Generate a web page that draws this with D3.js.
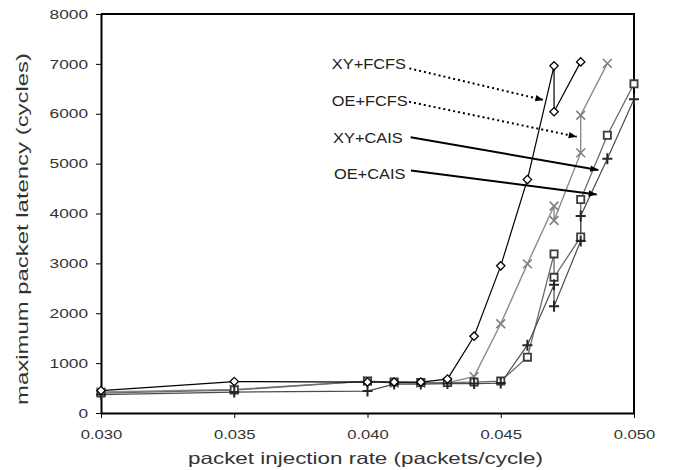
<!DOCTYPE html>
<html>
<head>
<meta charset="utf-8">
<script src="https://cdn.jsdelivr.net/npm/d3@7"></script>
<style>
  body { margin: 0; background: #fff; }
  svg { display: block; font-family: "Liberation Sans", Arial, sans-serif; }
</style>
</head>
<body>
<div id="chart"></div>
<script>
// values
const rateTicks = [0.030, 0.035, 0.040, 0.045, 0.050]
const latencyTicks = [0, 1000, 2000, 3000, 4000, 5000, 6000, 7000, 8000]

const xyFcfsRate = [0.030, 0.035, 0.040, 0.041, 0.042, 0.043, 0.044, 0.045, 0.046, 0.047, 0.047, 0.048]
const xyFcfsLatency = [450, 630, 620, 620, 620, 680, 1540, 2950, 4680, 6960, 6040, 7040]

const oeFcfsRate = [0.030, 0.035, 0.040, 0.041, 0.042, 0.043, 0.044, 0.045, 0.046, 0.047, 0.047, 0.048, 0.048, 0.049]
const oeFcfsLatency = [420, 470, 640, 600, 600, 610, 730, 1790, 2990, 4150, 3860, 5215, 5970, 7010]

const xyCaisRate = [0.030, 0.035, 0.040, 0.041, 0.042, 0.043, 0.044, 0.045, 0.046, 0.047, 0.047, 0.048, 0.048, 0.049, 0.050]
const xyCaisLatency = [400, 460, 640, 620, 610, 610, 620, 640, 1120, 3190, 2720, 3530, 4280, 5570, 6600]

const oeCaisRate = [0.030, 0.035, 0.040, 0.041, 0.042, 0.043, 0.044, 0.045, 0.046, 0.047, 0.047, 0.048, 0.048, 0.049, 0.050]
const oeCaisLatency = [370, 420, 440, 580, 580, 590, 590, 600, 1360, 2570, 2140, 3450, 3950, 5100, 6290]

// annotation labels and their arrows (data units)
const annLabels = ["XY+FCFS", "OE+FCFS", "XY+CAIS", "OE+CAIS"]
const annLabelRate = [0.03866, 0.03866, 0.03871, 0.03874]
const annLabelLatency = [6900, 6160, 5420, 4690]
const annStartRate = [0.04157, 0.04156, 0.04162, 0.04163]
const annStartLatency = [6910, 6240, 5530, 4860]
const annTipRate = [0.04660, 0.04785, 0.04866, 0.04860]
const annTipLatency = [6276, 5540, 4872, 4381]
const annDotted = [true, true, false, false]

const W = 674, H = 470
const margin = { left: 101, top: 14, right: 40, bottom: 57 }
const width = W - margin.left - margin.right,
    height = H - margin.top - margin.bottom

const x = d3.scaleLinear().domain([0.030, 0.050]).range([0, width])
const y = d3.scaleLinear().domain([0, 8000]).range([height, 0])

const svg = d3.select("#chart").append("svg")
    .attr("width", W)
    .attr("height", H)

svg.append("rect").attr("width", W).attr("height", H).attr("fill", "#fff")

const g = svg.append("g")
    .attr("transform", "translate(" + margin.left + "," + margin.top + ")")

// frame (top and right)
g.append("path")
    .attr("d", "M0,0H" + width + "V" + height)
    .attr("fill", "none")
    .attr("stroke", "#000")
    .attr("stroke-width", 2)

// stretch text horizontally like the original
function stretch(sel, k) {
    sel.each(function () {
        const len = this.getComputedTextLength()
        d3.select(this).attr("textLength", len * k).attr("lengthAdjust", "spacingAndGlyphs")
    })
}

const xAxis = g.append("g")
    .attr("transform", "translate(0," + height + ")")
    .call(d3.axisBottom(x).tickValues(rateTicks).tickFormat(d3.format(".3f")).tickSize(5).tickSizeOuter(0).tickPadding(12))
xAxis.select(".domain").attr("stroke-width", 2)
xAxis.selectAll("text").attr("font-size", 13).attr("fill", "#333").attr("font-family", null)
stretch(xAxis.selectAll("text"), 1.28)

const yAxis = g.append("g")
    .call(d3.axisLeft(y).tickValues(latencyTicks).tickFormat(d3.format("d")).tickSize(5).tickSizeOuter(0).tickPadding(8))
yAxis.select(".domain").attr("stroke-width", 2)
yAxis.selectAll("text").attr("font-size", 13).attr("fill", "#333").attr("font-family", null)
stretch(yAxis.selectAll("text"), 1.33)

// axis titles
svg.append("text")
    .attr("x", 188).attr("y", 464)
    .attr("font-size", 16.5).attr("fill", "#333")
    .attr("textLength", 355).attr("lengthAdjust", "spacingAndGlyphs")
    .text("packet injection rate (packets/cycle)")

svg.append("text")
    .attr("transform", "translate(28,405) rotate(-90)")
    .attr("font-size", 17).attr("fill", "#333")
    .attr("textLength", 352).attr("lengthAdjust", "spacingAndGlyphs")
    .text("maximum packet latency (cycles)")

// marker shapes
const shapes = {
    diamond: "M0,-4.2L4.2,0L0,4.2L-4.2,0Z",
    square: "M-3.6,-3.6H3.6V3.6H-3.6Z",
    cross: "M-4.4,-4.4L4.4,4.4M-4.4,4.4L4.4,-4.4",
    plus: "M-5,0H5M0,-5.5V5.5"
}

const series = [
    { rate: oeFcfsRate, lat: oeFcfsLatency, line: "#8c8c8c", lw: 1.4, mark: "cross", mc: "#808080", mw: 1.6, fill: "none" },
    { rate: xyCaisRate, lat: xyCaisLatency, line: "#6a6a6a", lw: 1.3, mark: "square", mc: "#3c3c3c", mw: 1.8, fill: "#fff" },
    { rate: oeCaisRate, lat: oeCaisLatency, line: "#4c4c4c", lw: 1.2, mark: "plus", mc: "#262626", mw: 2, fill: "none" },
    { rate: xyFcfsRate, lat: xyFcfsLatency, line: "#000", lw: 1.2, mark: "diamond", mc: "#000", mw: 1.3, fill: "#fff" }
]

const line = d3.line().x(d => x(d[0])).y(d => y(d[1]))

series.forEach(s => {
    const pts = s.rate.map((r, i) => [r, s.lat[i]])
    g.append("path")
        .datum(pts)
        .attr("fill", "none")
        .attr("stroke", s.line)
        .attr("stroke-width", s.lw)
        .attr("d", line)
})
series.forEach(s => {
    const pts = s.rate.map((r, i) => [r, s.lat[i]])
    g.selectAll(null)
        .data(pts)
        .enter().append("path")
        .attr("transform", d => "translate(" + x(d[0]) + "," + y(d[1]) + ")")
        .attr("d", shapes[s.mark])
        .attr("fill", s.fill)
        .attr("stroke", s.mc)
        .attr("stroke-width", s.mw)
})

// arrowhead
svg.append("defs").append("marker")
    .attr("id", "head")
    .attr("viewBox", "0 -5 10 10")
    .attr("refX", 10).attr("refY", 0)
    .attr("markerUnits", "userSpaceOnUse")
    .attr("markerWidth", 11).attr("markerHeight", 8)
    .attr("orient", "auto")
    .append("path")
    .attr("d", "M0,-4L10,0L0,4Z")
    .attr("fill", "#000")

annLabels.forEach((lab, i) => {
    const t = g.append("text")
        .attr("x", x(annLabelRate[i]))
        .attr("y", y(annLabelLatency[i]))
        .attr("font-size", 14.5)
        .attr("fill", "#222")
        .text(lab)
    stretch(t, 1.13)
    g.append("line")
        .attr("x1", x(annStartRate[i])).attr("y1", y(annStartLatency[i]))
        .attr("x2", x(annTipRate[i])).attr("y2", y(annTipLatency[i]))
        .attr("stroke", "#000")
        .attr("stroke-width", 2)
        .attr("stroke-dasharray", annDotted[i] ? "2,3" : null)
        .attr("marker-end", "url(#head)")
})
</script>
</body>
</html>
